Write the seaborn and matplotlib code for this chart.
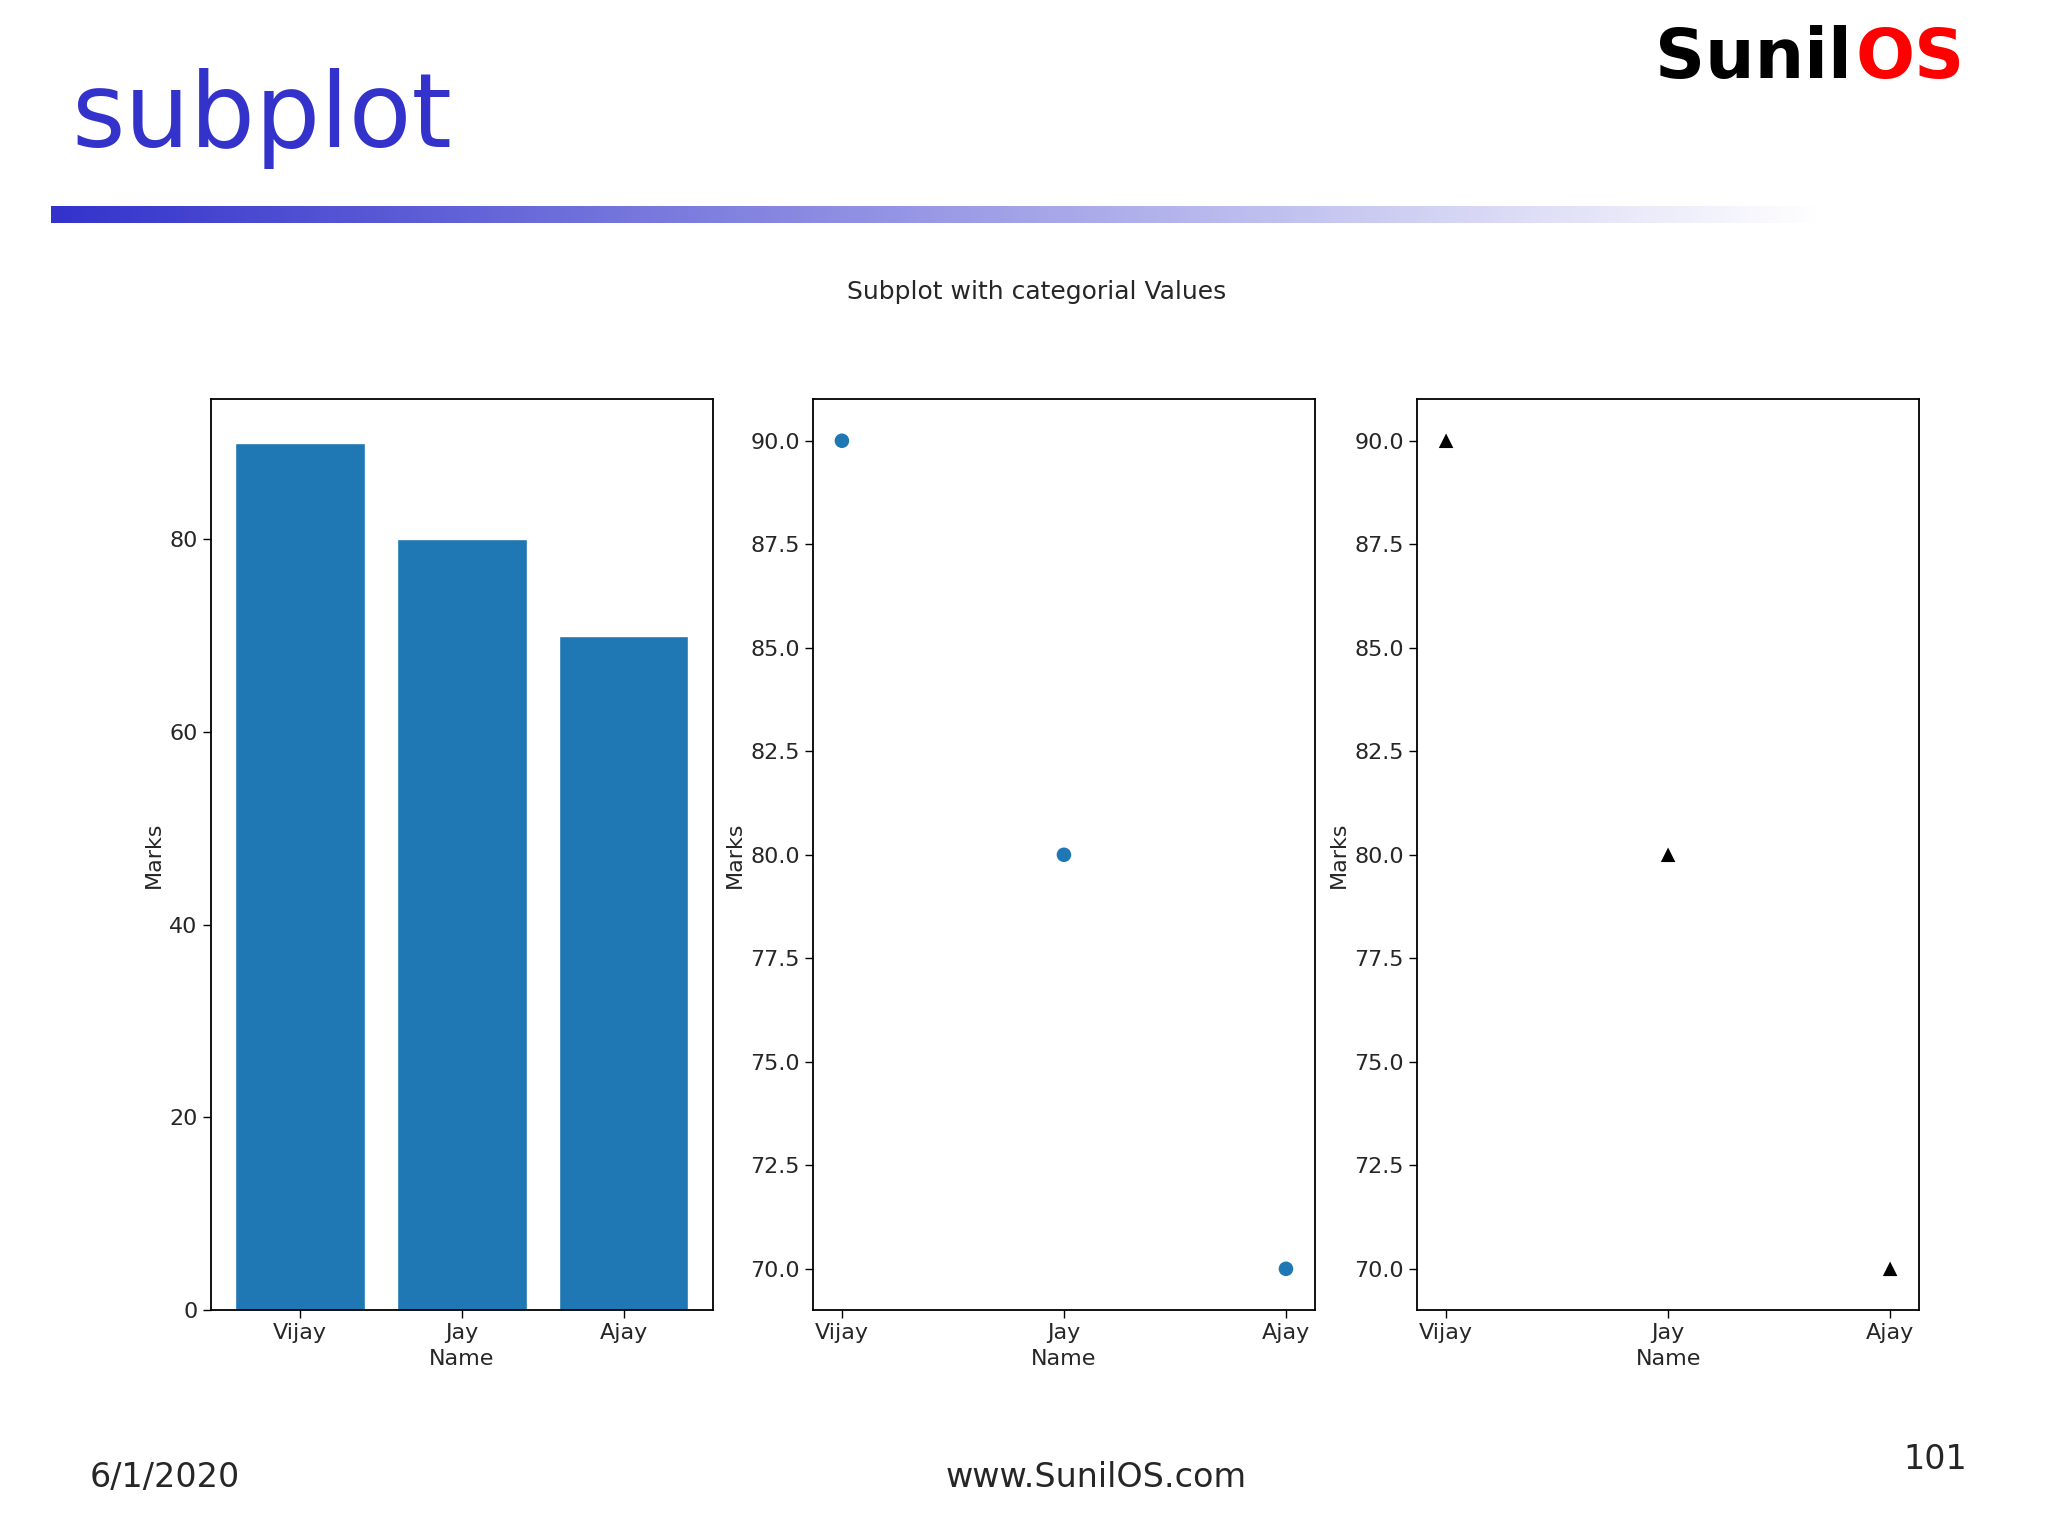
import numpy as np
import pandas as pd
import matplotlib.pyplot as plt
import seaborn as sns
from matplotlib.colors import LinearSegmentedColormap

# data
names = ['Vijay', 'Jay', 'Ajay']
marks = [90, 80, 70]
df = pd.DataFrame({'Name': names, 'Marks': marks})

sns.set_style('white')
plt.rcParams['font.family'] = ['DejaVu Sans']

fig = plt.figure(figsize=(20.48, 15.36), dpi=100)

# slide header
fig.text(0.035, 0.923, 'subplot', fontsize=74, color='#3333cc', va='center')
t1 = fig.text(0.808, 0.962, 'Sunil', fontsize=50, fontweight='heavy', color='black', va='center')
fig.canvas.draw()
bb = t1.get_window_extent().transformed(fig.transFigure.inverted())
fig.text(bb.x1 + 0.002, 0.962, 'OS', fontsize=50, fontweight='heavy', color='#ff0000', va='center')
bar_ax = fig.add_axes([0.025, 0.855, 0.865, 0.011])
cmap = LinearSegmentedColormap.from_list('g', ['#3333cc', '#ffffff'])
bar_ax.imshow(np.linspace(0, 1, 256).reshape(1, -1), aspect='auto', cmap=cmap)
bar_ax.axis('off')

# footer
fig.text(0.044, 0.038, '6/1/2020', fontsize=24, va='center')
fig.text(0.535, 0.038, 'www.SunilOS.com', fontsize=24, va='center', ha='center')
fig.text(0.945, 0.05, '101', fontsize=24, va='center', ha='center')

fig.text(0.506, 0.81, 'Subplot with categorial Values', fontsize=18, ha='center', va='center')

lefts = [0.103, 0.397, 0.692]
axes = [fig.add_axes([l, 0.147, 0.245, 0.593]) for l in lefts]

sns.barplot(data=df, x='Name', y='Marks', color='#1f77b4', saturation=1, width=0.8, ax=axes[0])
sns.scatterplot(data=df, x='Name', y='Marks', color='#1f77b4', s=110, edgecolor='none', ax=axes[1])
sns.scatterplot(data=df, x='Name', y='Marks', color='black', marker='^', s=110, edgecolor='none', ax=axes[2])

axes[0].set_xlim(-0.55, 2.55)
axes[0].set_ylim(0, 94.5)
for ax in axes[1:]:
    ax.set_xlim(-0.13, 2.13)
    ax.set_ylim(69.0, 91.0)
    ax.set_yticks(np.arange(70, 90.1, 2.5))
    ax.set_yticklabels([f'{v:.1f}' for v in np.arange(70, 90.1, 2.5)])

for ax in axes:
    for s in ax.spines.values():
        s.set_color('black')
        s.set_linewidth(1.3)
    ax.tick_params(axis='both', labelsize=16, length=6, width=1, color='black', bottom=True, left=True)
    ax.set_xlabel('Name', fontsize=16)
    ax.set_ylabel('Marks', fontsize=16)

fig.savefig('out.png', dpi=100)
